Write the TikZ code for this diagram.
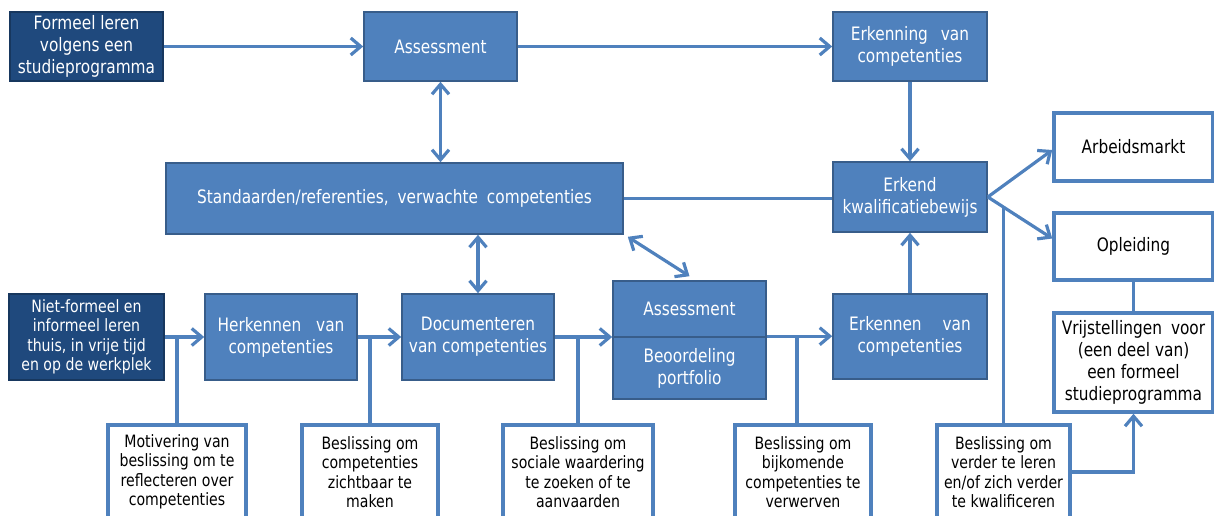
\documentclass[tikz,border=0pt]{standalone}
\usepackage{fontspec}
\setmainfont{DejaVu Sans}[FakeStretch=0.83]
\usetikzlibrary{arrows.meta}
\definecolor{vulblauw}{HTML}{4F81BD}
\definecolor{randblauw}{HTML}{385D8A}
\definecolor{vuldonker}{HTML}{1F497D}
\definecolor{randdonker}{HTML}{17375E}
\begin{document}
\begin{tikzpicture}[x=1pt, y=-1pt,
  vak/.style={draw=randblauw, fill=vulblauw, text=white, line width=1.6pt, inner sep=2pt,
    align=center, minimum width=154pt, minimum height=69pt, font=\fontsize{18.5}{22}\selectfont},
  donker/.style={vak, draw=randdonker, fill=vuldonker},
  wit/.style={vak, draw=vulblauw, fill=white, text=black, line width=3.5pt, minimum width=159pt},
  besluit/.style={wit, minimum height=94pt, font=\fontsize{17}{19.5}\selectfont},
  pijl/.style={draw=vulblauw, line width=3.2pt, -{Straight Barb[length=10pt,width=17pt]}},
  dubbel/.style={pijl, {Straight Barb[length=10pt,width=17pt]}-{Straight Barb[length=10pt,width=17pt]}},
  lijn/.style={draw=vulblauw, line width=3.2pt}]
\useasboundingbox (0,0) rectangle (1214,516);
% bovenste rij
\node[donker, minimum width=153pt] (P_formeel) at (86.5,46.5) {Formeel leren\\volgens een\\studieprogramma};
\node[vak, minimum width=153pt] (P_assess) at (440.5,46.5) {Assessment};
\draw[pijl] (P_formeel) -- (P_assess);
\node[vak] (P_erkenning) at (910,46.5) {Erkenning\hspace{8pt} van\\competenties};
\draw[pijl] (P_assess) -- (P_erkenning);
% middelste rij
\node[vak, minimum width=457pt, minimum height=71pt] (P_stand) at (394.5,198.5) {Standaarden/referenties,\hspace{4pt} verwachte\hspace{4pt} competenties};
\draw[dubbel] (P_assess.south) -- (P_assess.south |- P_stand.north);
\node[vak, minimum height=70pt] (P_erkend) at (910,197) {Erkend\\kwalificatiebewijs};
\draw[pijl] (P_erkenning) -- (P_erkend);
\draw[lijn] (P_stand.east) -- (P_stand.east -| P_erkend.west);
\node[wit, minimum height=68pt] (P_arbeid) at (1133.5,147) {Arbeidsmarkt};
\draw[pijl] (P_erkend.east) -- ([yshift=-3pt]P_arbeid.west);
\node[wit, minimum height=67pt] (P_opl) at (1133.5,246.5) {Opleiding};
\draw[pijl] (P_erkend.east) -- coordinate[pos=0.25] (K_tak) ([yshift=8pt]P_opl.west);
\node[wit, minimum height=99pt] (P_vrij) at (1133.5,362.5) {Vrijstellingen\hspace{4pt} voor\\(een deel van)\\een formeel\\studieprogramma};
\draw[lijn] (P_opl) -- (P_vrij);
% onderste rij
\node[donker, minimum width=155pt, minimum height=86pt, font=\fontsize{17}{19.5}\selectfont] (P_niet) at (86.5,337) {Niet-formeel en\\informeel leren\\thuis, in vrije tijd\\en op de werkplek};
\node[vak, minimum width=152pt, minimum height=86pt] (P_herk) at (281,337) {Herkennen\hspace{10pt} van\\competenties};
\draw[pijl] (P_niet) -- (P_herk);
\node[vak, minimum width=152pt, minimum height=86pt] (P_doc) at (478,337) {Documenteren\\van competenties};
\draw[pijl] (P_herk) -- (P_doc);
\draw[dubbel] (P_doc.north |- P_stand.south) -- (P_doc.north);
\node[vak, minimum width=153pt, minimum height=56pt] (P_ass_a) at (689.5,309) {Assessment};
\node[vak, minimum width=153pt, minimum height=62pt] (P_ass_b) at (689.5,368) {Beoordeling\\portfolio};
\draw[pijl] (P_doc.east) -- (P_doc.east -| P_ass_b.north west);
\draw[dubbel] ([shift={(4pt,-2pt)}]P_stand.south east) -- ([yshift=4pt]P_ass_a.north);
\node[vak, minimum height=85pt] (P_erkennen) at (910,336.5) {Erkennen\hspace{16pt} van\\competenties};
\draw[pijl] (P_ass_b.north east) -- (P_ass_b.north east -| P_erkennen.west);
\draw[pijl] (P_erkennen) -- (P_erkend);
% beslissingen
\node[besluit, minimum width=138pt] (P_motiv) at (177,472) {Motivering van\\beslissing om te\\reflecteren over\\competenties};
\draw[lijn] (P_niet.east -| P_motiv.north) -- (P_motiv.north);
\node[besluit, minimum width=136pt] (P_zicht) at (370,472) {Beslissing om\\competenties\\zichtbaar te\\maken};
\draw[lijn] (P_herk.east -| P_zicht.north) -- (P_zicht.north);
\node[besluit, minimum width=150pt] (P_sociaal) at (578,472) {Beslissing om\\sociale waardering\\te zoeken of te\\aanvaarden};
\draw[lijn] (P_doc.east -| P_sociaal.north) -- (P_sociaal.north);
\node[besluit, minimum width=136pt] (P_bijk) at (803,472) {Beslissing om\\bijkomende\\competenties te\\verwerven};
\draw[lijn] ([xshift=-6pt]P_bijk.north |- P_ass_b.north east) -- ([xshift=-6pt]P_bijk.north);
\node[besluit, minimum width=133pt] (P_verder) at (1003.5,472) {Beslissing om\\verder te leren\\en/of zich verder\\te kwalificeren};
\draw[lijn] (P_verder.north) -- (P_verder.north |- K_tak);
\draw[pijl] (P_verder.east) -| (P_vrij.south);
\end{tikzpicture}
\end{document}
